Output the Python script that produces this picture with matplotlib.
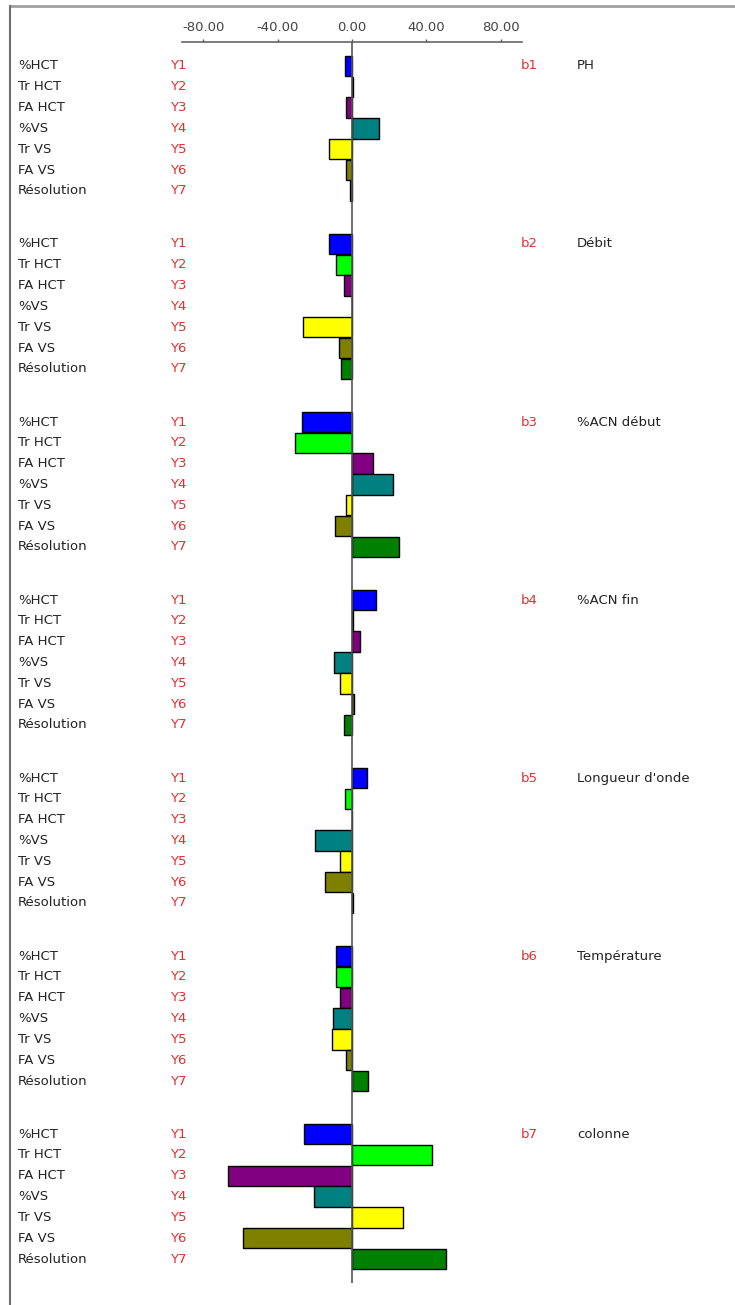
import matplotlib
matplotlib.use("Agg")
import matplotlib.pyplot as plt
from matplotlib.transforms import blended_transform_factory
from matplotlib.lines import Line2D

plt.rcParams['font.family'] = ['DejaVu Sans']

responses = ['%HCT', 'Tr HCT', 'FA HCT', '%VS', 'Tr VS', 'FA VS', 'Résolution']
codes = ['Y1', 'Y2', 'Y3', 'Y4', 'Y5', 'Y6', 'Y7']
coef_labels = ['b1', 'b2', 'b3', 'b4', 'b5', 'b6', 'b7']
factors = ['PH', 'Débit', '%ACN début', '%ACN fin', "Longueur d'onde", 'Température', 'colonne']

b1 = [-3.8, 0.4, -3.0, 14.5, -12.5, -3.2, -1.0]
b2 = [-12.5, -8.4, -4.5, 0.0, -26.3, -7.0, -5.7]
b3 = [-26.9, -30.5, 11.1, 21.9, -3.4, -9.0, 25.4]
b4 = [12.9, 0.8, 4.3, -9.9, -6.6, 1.0, -4.5]
b5 = [7.9, -3.8, 0.0, -19.7, -6.3, -14.3, 0.8]
b6 = [-8.6, -8.4, -6.6, -10.4, -10.8, -3.2, 8.4]
b7 = [-26.0, 42.8, -66.8, -20.2, 27.6, -58.8, 50.5]
groups = [b1, b2, b3, b4, b5, b6, b7]

colors = ['#0000FF', '#00FF00', '#800080', '#008080', '#FFFF00', '#808000', '#008000']
ticks = [-80, -40, 0, 40, 80]

W, H = 735, 1305
fig = plt.figure(figsize=(W / 100, H / 100), dpi=100)
fig.patch.set_facecolor('white')

ax_left, ax_right, ax_top, ax_bot = 182, 522, 42, 1283
ax = fig.add_axes([ax_left / W, 1 - ax_bot / H, (ax_right - ax_left) / W, (ax_bot - ax_top) / H])

gstep = 8.55
n = len(responses)
for g, vals in enumerate(groups):
    ys = [g * gstep + i for i in range(n)]
    ax.barh(ys, vals, height=0.98, color=colors, edgecolor='black', linewidth=1.0, zorder=3)

last = (len(groups) - 1) * gstep + n - 1
ax.set_ylim(last + 1.15, -1.15)
ax.set_xlim(-91.4, 91.4)
ax.axvline(0, color='#555555', lw=1.2, zorder=4)

for s in ['left', 'right', 'bottom']:
    ax.spines[s].set_visible(False)
ax.spines['top'].set_color('#666666')
ax.spines['top'].set_linewidth(1.2)
ax.set_yticks([])
ax.xaxis.tick_top()
ax.set_xticks(ticks)
ax.set_xticklabels([f'{t:.2f}' for t in ticks])
ax.tick_params(axis='x', direction='out', length=2, width=1, colors='#555555',
               labelcolor='#444444', labelsize=9.5, pad=4)

fs = 9.5
tr = blended_transform_factory(fig.transFigure, ax.transData)
for g in range(len(groups)):
    for i in range(n):
        y = g * gstep + i
        ax.text(18 / W, y, responses[i], transform=tr, fontsize=fs, color='#222222',
                ha='left', va='center', clip_on=False)
        ax.text(170 / W, y, codes[i], transform=tr, fontsize=fs, color='#E03030',
                ha='left', va='center', clip_on=False)
    y0 = g * gstep
    ax.text(521 / W, y0, coef_labels[g], transform=tr, fontsize=fs, color='#E03030',
            ha='left', va='center', clip_on=False)
    ax.text(577 / W, y0, factors[g], transform=tr, fontsize=fs, color='#222222',
            ha='left', va='center', clip_on=False)

# outer frame lines
fig.add_artist(Line2D([10 / W, 1.0], [1 - 6 / H, 1 - 6 / H], transform=fig.transFigure,
                      color='#A0A0A0', lw=2))
fig.add_artist(Line2D([10 / W, 10 / W], [1 - 6 / H, 0], transform=fig.transFigure,
                      color='#707070', lw=1.5))

fig.savefig('out.png', dpi=100, facecolor='white')
